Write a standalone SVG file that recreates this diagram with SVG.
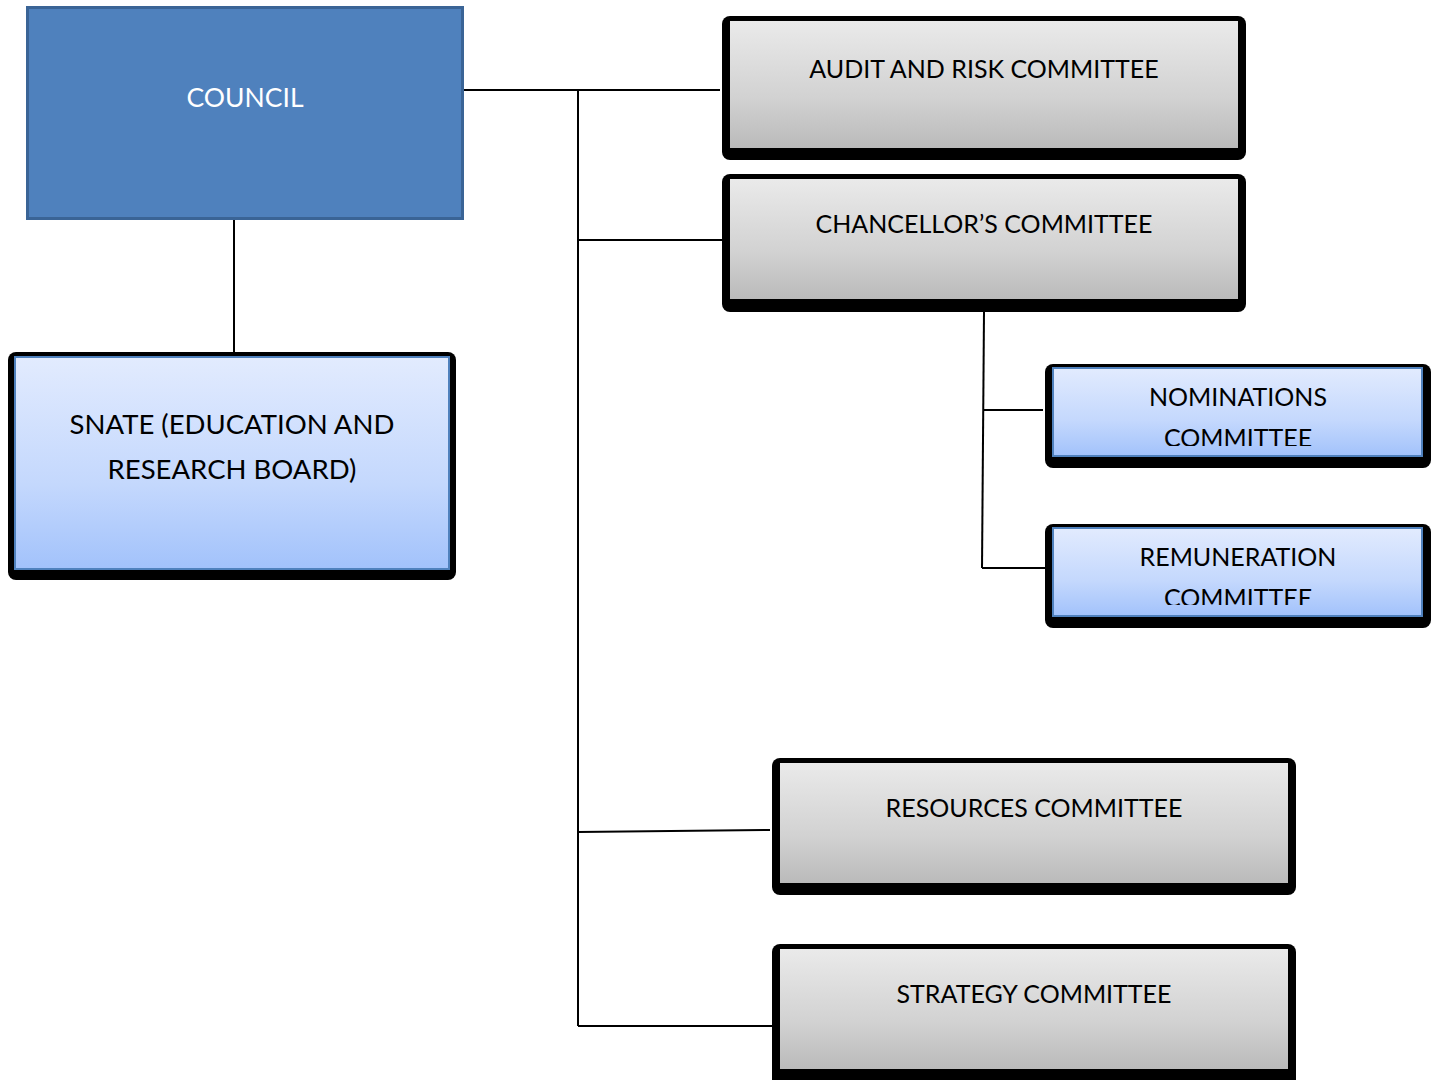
<svg xmlns="http://www.w3.org/2000/svg" width="1441" height="1080" viewBox="0 0 1441 1080">
<defs>
<linearGradient id="gray" x1="0" y1="0" x2="0" y2="1">
<stop offset="0" stop-color="#EAEAEA"/>
<stop offset="0.6" stop-color="#D2D2D2"/>
<stop offset="1" stop-color="#BABABA"/>
</linearGradient>
<linearGradient id="blue" x1="0" y1="0" x2="0" y2="1">
<stop offset="0" stop-color="#E2EBFE"/>
<stop offset="0.6" stop-color="#C4D8FD"/>
<stop offset="1" stop-color="#A2C2FB"/>
</linearGradient>
<clipPath id="clipNom"><rect x="1053" y="368" width="369" height="78"/></clipPath>
<clipPath id="clipRem"><rect x="1053" y="528" width="369" height="77"/></clipPath>
</defs>
<style>
.shadow{fill:#000}
.gbox{fill:url(#gray);stroke:none}
.bbox{fill:url(#blue);stroke:#4F81BD;stroke-width:2}
.t{font-family:Lato,"Open Sans","Liberation Sans",sans-serif;font-size:25px;fill:#000;text-anchor:middle}
.tb{font-family:Lato,"Open Sans","Liberation Sans",sans-serif;font-size:27.5px;fill:#000;text-anchor:middle}
.conn line{stroke:#000;stroke-width:2}
</style>
<rect width="1441" height="1080" fill="#fff"/>
<g class="conn" id="connectors">
<line x1="464" y1="90" x2="720" y2="90"/>
<line x1="578" y1="90" x2="578" y2="1026"/>
<line x1="578" y1="240" x2="724" y2="240"/>
<line x1="578" y1="832" x2="770" y2="830"/>
<line x1="578" y1="1026" x2="774" y2="1026"/>
<line x1="234" y1="220" x2="234" y2="353"/>
<line x1="984" y1="312" x2="982" y2="568"/>
<line x1="984" y1="410" x2="1043" y2="410"/>
<line x1="982" y1="568" x2="1053" y2="568"/>
</g>
<g id="council">
<rect x="27.5" y="7.5" width="435" height="211" fill="#4F81BD" stroke="#3A6496" stroke-width="3"/>
<text x="245" y="107" class="t" style="fill:#fff;font-size:26.5px">COUNCIL</text>
</g>
<g id="audit">
<rect class="shadow" x="722" y="16" width="524" height="144" rx="8"/>
<rect class="gbox" x="730" y="21" width="508" height="127"/>
<text x="984" y="78" class="t">AUDIT AND RISK COMMITTEE</text>
</g>
<g id="chancellor">
<rect class="shadow" x="722" y="174" width="524" height="138" rx="8"/>
<rect class="gbox" x="730" y="179" width="508" height="120"/>
<text x="984" y="233" class="t">CHANCELLOR’S COMMITTEE</text>
</g>
<g id="snate">
<rect class="shadow" x="8" y="352" width="448" height="228" rx="8"/>
<rect class="bbox" x="15" y="357" width="434" height="212"/>
<text x="232" y="434" class="tb">SNATE (EDUCATION AND</text>
<text x="232" y="479" class="tb">RESEARCH BOARD)</text>
</g>
<g id="nominations">
<rect class="shadow" x="1045" y="364" width="386" height="104" rx="8"/>
<rect class="bbox" x="1053" y="368" width="369" height="88"/>
<g clip-path="url(#clipNom)">
<text x="1238" y="406" class="t">NOMINATIONS</text>
<text x="1238" y="447" class="t">COMMITTEE</text>
</g>
</g>
<g id="remuneration">
<rect class="shadow" x="1045" y="524" width="386" height="104" rx="8"/>
<rect class="bbox" x="1053" y="528" width="369" height="88"/>
<g clip-path="url(#clipRem)">
<text x="1238" y="566" class="t">REMUNERATION</text>
<text x="1238" y="607" class="t">COMMITTEE</text>
</g>
</g>
<g id="resources">
<rect class="shadow" x="772" y="758" width="524" height="137" rx="8"/>
<rect class="gbox" x="780" y="763" width="508" height="120"/>
<text x="1034" y="817" class="t">RESOURCES COMMITTEE</text>
</g>
<g id="strategy">
<rect class="shadow" x="772" y="944" width="524" height="146" rx="8"/>
<rect class="gbox" x="780" y="949" width="508" height="120"/>
<text x="1034" y="1003" class="t">STRATEGY COMMITTEE</text>
</g>
</svg>
